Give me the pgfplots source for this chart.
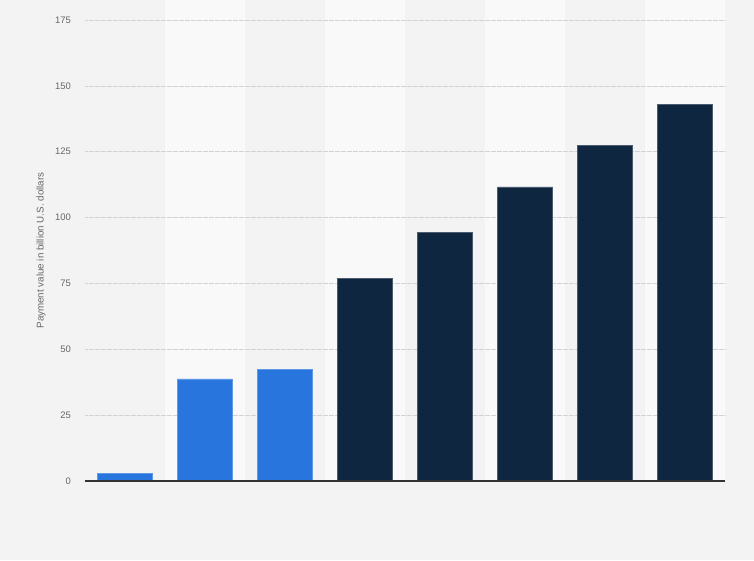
\documentclass[border=0pt]{standalone}
\usepackage{pgfplots}
\pgfplotsset{compat=1.18}
\usepackage{fontspec}
\setmainfont{Liberation Sans}
\definecolor{pagebg}{HTML}{F3F3F3}
\definecolor{stripe}{HTML}{F9F9F9}
\definecolor{gridc}{HTML}{D2D2D2}
\definecolor{barblue}{HTML}{2876DD}
\definecolor{barnavy}{HTML}{0F2640}
\definecolor{labelc}{HTML}{666666}
\definecolor{axisc}{HTML}{333333}

\begin{document}
\begin{tikzpicture}
% page background, 754 x 560 px with the axis box at (85,20)-(725,481)
\fill[pagebg] (-85bp,-79bp) rectangle (669bp,481bp);
\begin{axis}[
  at={(0,0)}, anchor=south west,
  scale only axis, width=640bp, height=461bp,
  xmin=-0.5, xmax=7.5, ymin=0, ymax=175,
  axis x line*=bottom, axis y line*=left,
  axis line style={draw=none},
  xtick=\empty,
  ytick={0,25,...,175},
  major tick length=0pt,
  clip=false,
  tick label style={font=\fontsize{9.5}{11}\selectfont, text=labelc},
  /pgf/number format/assume math mode=true,
  yticklabel style={inner sep=0pt, xshift=-14bp},
  every axis y label/.style={at={([xshift=-44bp]axis description cs:0,0.5)}, rotate=90,
    anchor=center, font=\fontsize{9.8}{11}\selectfont, text=labelc},
  ylabel={Payment value in billion U.S. dollars},
  ybar, bar width=55bp, bar shift=0pt,
]
% alternating column shading
\fill[stripe] (axis cs:0.5,0) rectangle (axis cs:1.5,182.6);
\fill[stripe] (axis cs:2.5,0) rectangle (axis cs:3.5,182.6);
\fill[stripe] (axis cs:4.5,0) rectangle (axis cs:5.5,182.6);
\fill[stripe] (axis cs:6.5,0) rectangle (axis cs:7.5,182.6);
% dotted grid
\pgfplotsinvokeforeach{25,50,75,100,125,150,175}{
  \draw[gridc, line width=0.6bp, dash pattern=on 0.6bp off 0.6bp]
    (axis cs:-0.5,#1) -- (axis cs:7.5,#1);
}
\addplot[fill=barblue, draw=barblue!75!white, line width=0.5bp]
  coordinates {(0,2.9) (1,38.8) (2,42.4)};
\addplot[fill=barnavy, draw=barnavy!75!white, line width=0.5bp]
  coordinates {(3,77.0) (4,94.4) (5,111.7) (6,127.4) (7,143.0)};
\draw[axisc, line width=1.2bp] (axis cs:-0.5,0) -- (axis cs:7.5,0);
\end{axis}
\end{tikzpicture}
\end{document}
